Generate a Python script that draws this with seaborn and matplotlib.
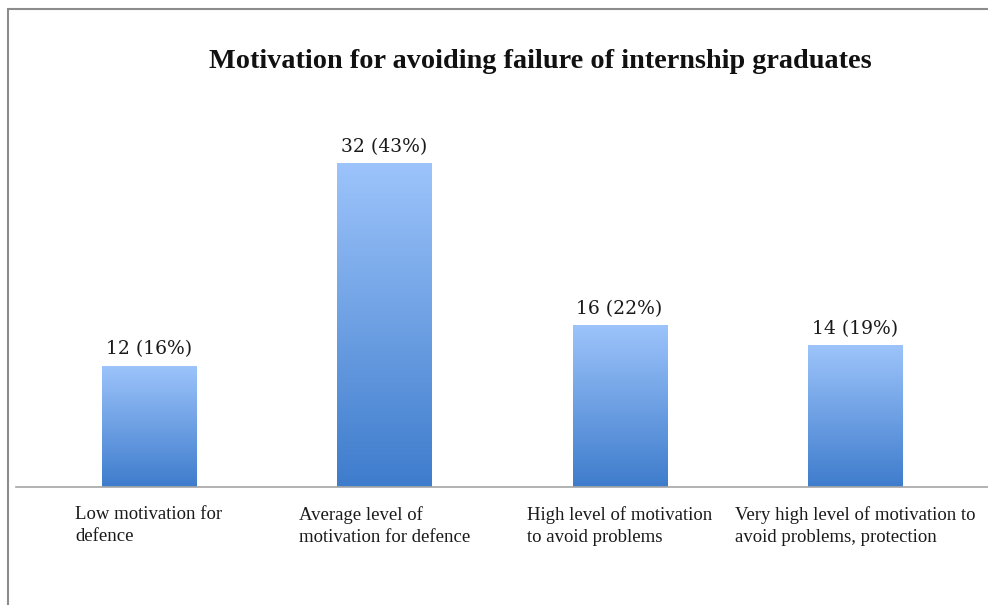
import matplotlib
matplotlib.use("Agg")
import matplotlib.pyplot as plt
import numpy as np
import pandas as pd
import seaborn as sns
from matplotlib.colors import LinearSegmentedColormap
from matplotlib.lines import Line2D

categories = [
    "Low motivation for\ndefence",
    "Average level of\nmotivation for defence",
    "High level of motivation\nto avoid problems",
    "Very high level of motivation to\navoid problems, protection",
]
counts = [12, 32, 16, 14]
percents = [16, 43, 22, 19]
title = "Motivation for avoiding failure of internship graduates"

sns.set_theme(style="white")
plt.rcParams["font.family"] = ["Liberation Serif", "DejaVu Serif"]

fig = plt.figure(figsize=(9.88, 6.05), dpi=100)
ax = fig.add_axes([0.016, 0.195, 0.984, 0.6025])

df = pd.DataFrame({"category": categories, "count": counts})
sns.barplot(data=df, x="category", y="count", color="#6a9be0",
            width=0.40, saturation=1, ax=ax)

# vertical gradient inside each bar
cmap = LinearSegmentedColormap.from_list("bar", ["#9dc4fb", "#3e7ccc"])
grad = np.linspace(0, 1, 256).reshape(-1, 1)
for patch, n, p in zip(ax.patches, counts, percents):
    x0, w, h = patch.get_x(), patch.get_width(), patch.get_height()
    im = ax.imshow(grad, cmap=cmap, aspect="auto", origin="upper",
                   extent=[x0, x0 + w, 0, h], zorder=patch.get_zorder() + 0.1)
    im.set_clip_path(patch)
    patch.set_edgecolor("none")
    ax.annotate(f"{n} ({p}%)", (x0 + w / 2, h), xytext=(0, 5),
                textcoords="offset points", ha="center", va="bottom",
                fontsize=13.5, family=["DejaVu Serif"], color="#1a1a1a")

ax.set_xlim(-0.565, 3.565)
ax.set_ylim(0, 36)
ax.set(xlabel="", ylabel="", yticks=[])
for side in ["top", "left", "right"]:
    ax.spines[side].set_visible(False)
ax.spines["bottom"].set_color("#a6a6a6")
ax.spines["bottom"].set_linewidth(1.2)
ax.tick_params(axis="x", length=0, pad=14, labelsize=13.5, labelcolor="#1a1a1a")
for lbl in ax.get_xticklabels():
    lbl.set_multialignment("left")
    lbl.set_linespacing(1.35)

fig.text(540 / 988, 1 - 62 / 605, title, ha="center", va="center",
         fontsize=20.3, fontweight="bold", color="#111111")

# outer frame (left and top edges)
fig.add_artist(Line2D([8 / 988, 8 / 988], [0, 1 - 9 / 605], color="#8c8c8c",
                      lw=1.5, transform=fig.transFigure))
fig.add_artist(Line2D([8 / 988, 1], [1 - 9 / 605, 1 - 9 / 605], color="#8c8c8c",
                      lw=1.5, transform=fig.transFigure))

fig.savefig("out.png", dpi=100)
